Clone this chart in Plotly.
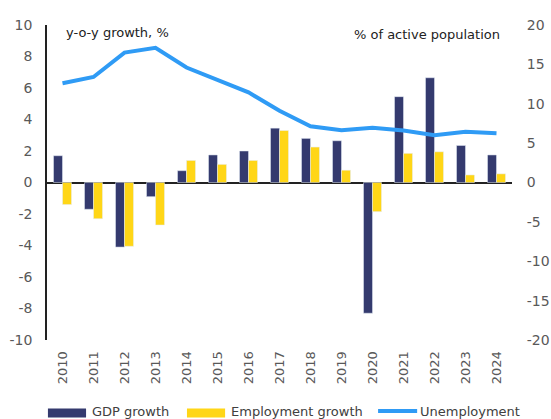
import plotly.graph_objects as go

years = [str(y) for y in range(2010, 2025)]
gdp_growth = [1.7, -1.7, -4.1, -0.9, 0.75, 1.75, 2.0, 3.45, 2.8, 2.65, -8.3, 5.45, 6.65, 2.35, 1.75]
employment_growth = [-1.4, -2.3, -4.05, -2.7, 1.4, 1.15, 1.4, 3.3, 2.25, 0.78, -1.85, 1.85, 1.95, 0.48, 0.55]
unemployment = [12.6, 13.4, 16.5, 17.1, 14.6, 13.0, 11.45, 9.1, 7.15, 6.65, 6.95, 6.6, 6.0, 6.45, 6.25]

left_ticks = list(range(-10, 11, 2))
right_ticks = list(range(-20, 21, 5))

NAVY = "#343a6e"
YELLOW = "#ffd617"
BLUE = "#2f9bf5"
FONT = "DejaVu Sans"

fig = go.Figure()
fig.add_trace(go.Bar(x=years, y=gdp_growth, name="GDP growth", marker_color=NAVY, yaxis="y"))
fig.add_trace(go.Bar(x=years, y=employment_growth, name="Employment growth",
                     marker_color=YELLOW, yaxis="y"))
fig.add_trace(go.Scatter(x=years, y=unemployment, name="Unemployment", mode="lines",
                         line=dict(color=BLUE, width=4), yaxis="y2"))

# manual legend (paper coordinates)
leg_y_rect = (-0.246, -0.2175)
leg_y = -0.2254
shapes = [
    dict(type="rect", xref="paper", yref="paper", x0=0.002, x1=0.084,
         y0=leg_y_rect[0], y1=leg_y_rect[1], fillcolor=NAVY, line_width=0),
    dict(type="rect", xref="paper", yref="paper", x0=0.301, x1=0.383,
         y0=leg_y_rect[0], y1=leg_y_rect[1], fillcolor=YELLOW, line_width=0),
    dict(type="line", xref="paper", yref="paper", x0=0.712, x1=0.796,
         y0=leg_y, y1=leg_y, line=dict(color=BLUE, width=4)),
]
legend_texts = [("GDP growth", 0.092), ("Employment growth", 0.391), ("Unemployment", 0.798)]

annotations = [
    dict(text="y-o-y growth, %", xref="paper", yref="paper", x=0.037, y=0.975,
         xanchor="left", yanchor="middle", showarrow=False,
         font=dict(size=13, color="#222")),
    dict(text="% of active population", xref="paper", yref="paper", x=0.978, y=0.971,
         xanchor="right", yanchor="middle", showarrow=False,
         font=dict(size=13, color="#222")),
]
for t, xp in legend_texts:
    annotations.append(dict(text=t, xref="paper", yref="paper", x=xp, y=leg_y,
                            xanchor="left", yanchor="middle", showarrow=False,
                            font=dict(size=13, color="#404040")))

fig.update_layout(
    width=551, height=419,
    margin=dict(l=47, r=39, t=25, b=79),
    paper_bgcolor="white", plot_bgcolor="white",
    font=dict(family=FONT, color="#595959", size=14),
    barmode="group", bargap=0.42, bargroupgap=0.0,
    showlegend=False,
    xaxis=dict(type="category", tickangle=-90, showgrid=False, showline=False,
               ticks="outside", ticklen=5, tickcolor="rgba(0,0,0,0)",
               tickfont=dict(size=13, color="#595959"), automargin=False),
    yaxis=dict(range=[-10, 10], tickvals=left_ticks, ticktext=[str(v) for v in left_ticks],
               showgrid=False, showline=True,
               linecolor="#222", linewidth=1.5, zeroline=True, zerolinecolor="#222",
               zerolinewidth=1.5, ticks="outside", ticklen=10, tickcolor="rgba(0,0,0,0)",
               tickfont=dict(size=14), automargin=False),
    yaxis2=dict(range=[-20, 20], tickvals=right_ticks, ticktext=[str(v) for v in right_ticks],
                overlaying="y", side="right", showgrid=False,
                showline=False, zeroline=False, ticks="outside", ticklen=11,
                tickcolor="rgba(0,0,0,0)", tickfont=dict(size=14), automargin=False),
    shapes=shapes,
    annotations=annotations,
)

fig.write_html("out.html", config={"displayModeBar": False},
               post_script="document.body.style.margin='0px';document.body.style.overflow='hidden';")
